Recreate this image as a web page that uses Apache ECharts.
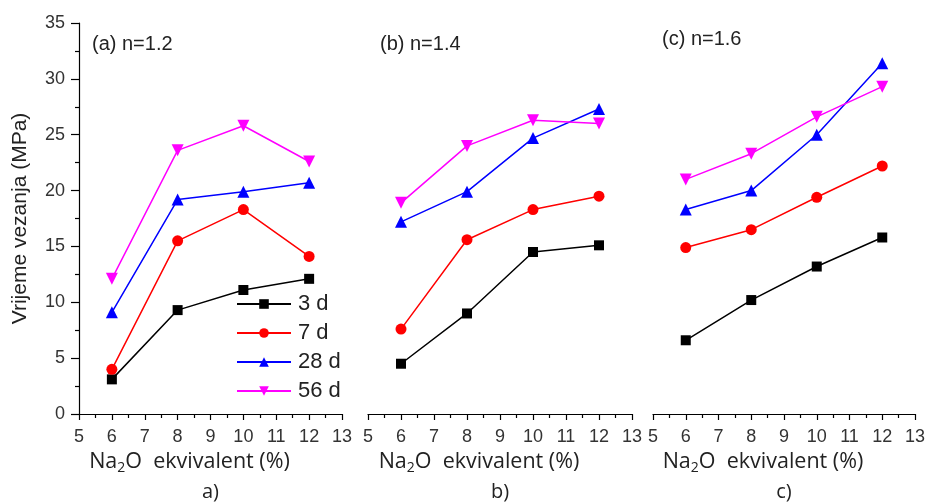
<!DOCTYPE html>
<html>
<head>
<meta charset="utf-8">
<script src="https://cdn.jsdelivr.net/npm/echarts@6/dist/echarts.min.js"></script>
<style>html,body{margin:0;padding:0;background:#fff;}#main{width:930px;height:502px;}</style>
</head>
<body>
<div id="main"></div>
<script>
var xValues = [6, 8, 10, 12];
var seriesNames = ['3 d', '7 d', '28 d', '56 d'];
var panelTitles = ['(a) n=1.2', '(b) n=1.4', '(c) n=1.6'];
var panelLetters = ['a)', 'b)', 'c)'];
// Panel a (n=1.2)
var a3 = [3.1, 9.3, 11.1, 12.1];
var a7 = [4.0, 15.5, 18.3, 14.1];
var a28 = [9.1, 19.2, 19.9, 20.7];
var a56 = [12.1, 23.6, 25.8, 22.6];
// Panel b (n=1.4)
var b3 = [4.5, 9.0, 14.5, 15.1];
var b7 = [7.6, 15.6, 18.3, 19.5];
var b28 = [17.2, 19.9, 24.7, 27.3];
var b56 = [18.9, 24.0, 26.3, 26.0];
// Panel c (n=1.6)
var c3 = [6.6, 10.2, 13.2, 15.8];
var c7 = [14.9, 16.5, 19.4, 22.2];
var c28 = [18.3, 20.0, 25.0, 31.4];
var c56 = [21.0, 23.3, 26.6, 29.3];
var yTicks = [0, 5, 10, 15, 20, 25, 30, 35];
var xTicks = [5, 6, 7, 8, 9, 10, 11, 12, 13];

var panels = [[a3, a7, a28, a56], [b3, b7, b28, b56], [c3, c7, c28, c56]];
var colors = ['#000000', '#ff0000', '#0000ff', '#ff00ff'];
var symbols = ['rect', 'circle', 'triangle', 'triangle'];
var symbolSizes = [10, 11, 12, 12];
var symbolRotates = [0, 0, 0, 180];

var grids = [
  {left: 79, top: 23, width: 263, height: 391},
  {left: 368, top: 23, width: 264, height: 391},
  {left: 653, top: 23, width: 262, height: 391}
];
var FONT = 'Liberation Sans';

var xAxes = grids.map(function (g, i) {
  return {
    type: 'value', gridIndex: i, min: xTicks[0], max: xTicks[xTicks.length - 1], interval: 1,
    axisLine: {show: true, onZero: false, lineStyle: {color: '#000', width: 1.2}},
    axisTick: {show: true, inside: false, length: 6, lineStyle: {color: '#000', width: 1.2}},
    minorTick: {show: true, splitNumber: 2, length: 4, lineStyle: {color: '#000', width: 1.2}},
    splitLine: {show: false},
    axisLabel: {fontFamily: FONT, fontSize: 18, color: '#333', margin: 14},
    name: '{a|Na}{s|2}{a|O  ekvivalent (%)}',
    nameLocation: 'middle', nameGap: 33,
    nameTextStyle: {
      padding: [0, 42, 0, 0],
      rich: {
        a: {fontFamily: 'Open Sans', fontSize: 21.5, color: '#222', lineHeight: 27},
        s: {fontFamily: 'Open Sans', fontSize: 14, color: '#222', lineHeight: 12, verticalAlign: 'bottom'}
      }
    }
  };
});

var yAxes = grids.map(function (g, i) {
  var show = i === 0;
  return {
    type: 'value', gridIndex: i, min: yTicks[0], max: yTicks[yTicks.length - 1], interval: 5,
    axisLine: {show: show, lineStyle: {color: '#000', width: 1.2}},
    axisTick: {show: show, inside: false, length: 8, lineStyle: {color: '#000', width: 1.2}},
    minorTick: {show: show, splitNumber: 2, length: 4, lineStyle: {color: '#000', width: 1.2}},
    splitLine: {show: false},
    axisLabel: {show: show, fontFamily: FONT, fontSize: 18, color: '#333', margin: 14},
    name: show ? 'Vrijeme vezanja (MPa)' : '',
    nameLocation: 'middle', nameGap: 48,
    nameTextStyle: {fontFamily: FONT, fontSize: 21, color: '#222'}
  };
});

var series = [];
panels.forEach(function (p, pi) {
  p.forEach(function (vals, si) {
    series.push({
      name: seriesNames[si], type: 'line', xAxisIndex: pi, yAxisIndex: pi,
      data: xValues.map(function (x, k) { return [x, vals[k]]; }),
      symbol: symbols[si], symbolSize: symbolSizes[si], symbolRotate: symbolRotates[si],
      showSymbol: true,
      lineStyle: {color: colors[si], width: 1.5},
      itemStyle: {color: colors[si]},
      emphasis: {disabled: true},
      animation: false
    });
  });
});

var graphics = [];
var titlePos = [[92, 44], [380, 44], [662, 39]];
panelTitles.forEach(function (t, i) {
  graphics.push({type: 'text', x: titlePos[i][0], y: titlePos[i][1],
    style: {text: t, fontFamily: FONT, fontSize: 20, fill: '#222', align: 'left', verticalAlign: 'middle'}});
});
grids.forEach(function (g, i) {
  graphics.push({type: 'text', x: g.left + g.width / 2, y: 492,
    style: {text: panelLetters[i], fontFamily: 'Open Sans', fontSize: 20, fill: '#222', align: 'center', verticalAlign: 'middle'}});
});

var chart = echarts.init(document.getElementById('main'), null, {renderer: 'canvas'});
chart.setOption({
  animation: false,
  backgroundColor: '#fff',
  grid: grids,
  xAxis: xAxes,
  yAxis: yAxes,
  legend: {
    data: seriesNames, orient: 'vertical', left: 231, top: 288,
    itemWidth: 54, itemHeight: 12, itemGap: 7,
    textStyle: {fontFamily: FONT, fontSize: 22, color: '#222', padding: [0, 0, 0, 2]},
    selectedMode: false
  },
  series: series,
  graphic: graphics
});
</script>
</body>
</html>
